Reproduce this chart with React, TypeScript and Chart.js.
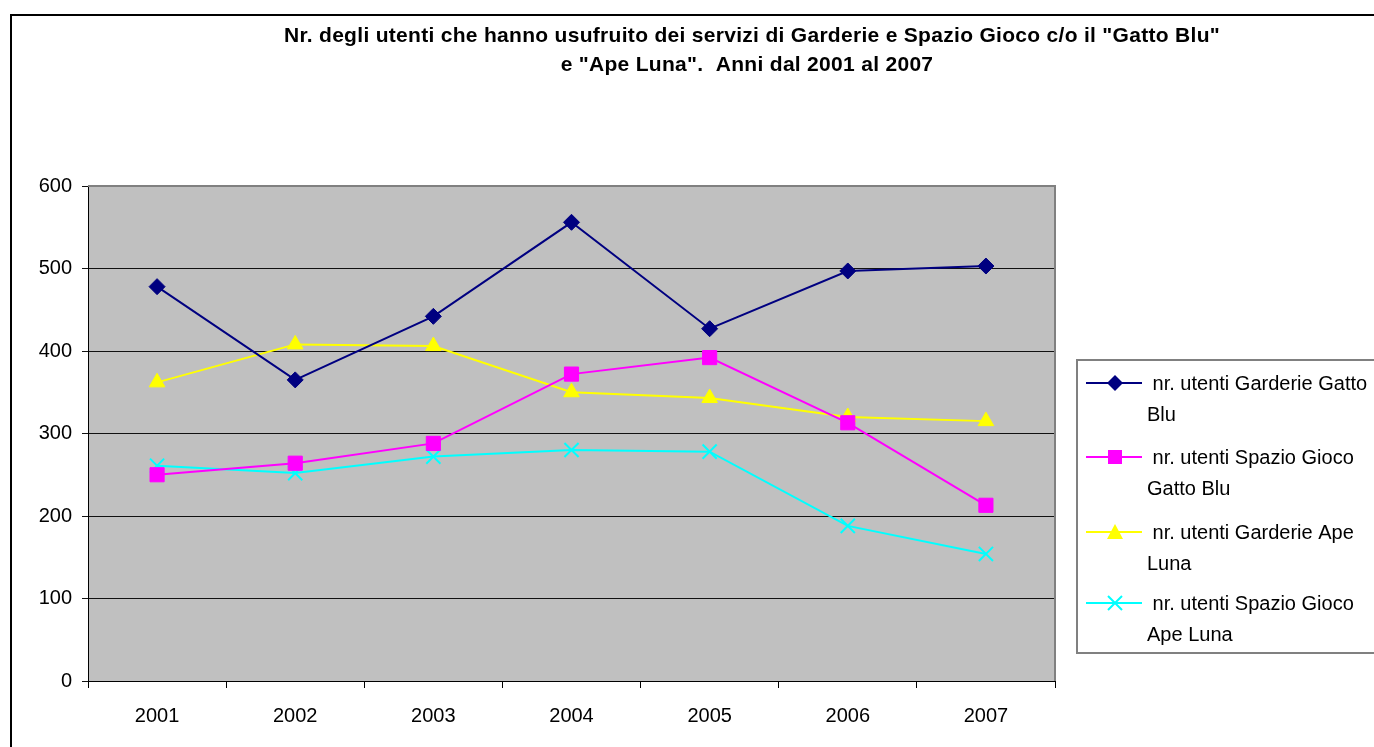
import React, { useEffect, useRef } from "react";
import { Chart, registerables } from "chart.js";

Chart.register(...registerables);

const years = ["2001", "2002", "2003", "2004", "2005", "2006", "2007"];
const garderieGattoBlu = [478, 365, 442, 556, 427, 497, 503];
const spazioGiocoGattoBlu = [250, 264, 288, 372, 392, 313, 213];
const garderieApeLuna = [362, 408, 406, 350, 343, 320, 315];
const spazioGiocoApeLuna = [261, 252, 272, 280, 278, 188, 154];

const seriesNames = [
  "nr. utenti Garderie Gatto Blu",
  "nr. utenti Spazio Gioco Gatto Blu",
  "nr. utenti Garderie Ape Luna",
  "nr. utenti Spazio Gioco Ape Luna",
];
const legendLines = [
  [" nr. utenti Garderie Gatto", "Blu"],
  [" nr. utenti Spazio Gioco", "Gatto Blu"],
  [" nr. utenti Garderie Ape", "Luna"],
  [" nr. utenti Spazio Gioco", "Ape Luna"],
];
const titleLines = [
  'Nr. degli utenti che hanno usufruito dei servizi di Garderie e Spazio Gioco c/o il "Gatto Blu"',
  'e "Ape Luna".  Anni dal 2001 al 2007',
];
const yTicks = [0, 100, 200, 300, 400, 500, 600];

const FONT = "'Liberation Sans', Arial, sans-serif";
const colors = ["#000080", "#FF00FF", "#FFFF00", "#00FFFF"];
const markers = ["rectRot", "rect", "triangle", "crossRot"];
const markerRadius = [8, 10, 9, 10];

function drawMarker(ctx: CanvasRenderingContext2D, kind: string, x: number, y: number, color: string) {
  ctx.save();
  ctx.fillStyle = color;
  ctx.strokeStyle = color;
  ctx.beginPath();
  if (kind === "rectRot") {
    const r = 8;
    ctx.moveTo(x, y - r);
    ctx.lineTo(x + r, y);
    ctx.lineTo(x, y + r);
    ctx.lineTo(x - r, y);
    ctx.closePath();
    ctx.fill();
  } else if (kind === "rect") {
    const r = 7;
    ctx.rect(x - r, y - r, 2 * r, 2 * r);
    ctx.fill();
  } else if (kind === "triangle") {
    const r = 8;
    ctx.moveTo(x, y - r);
    ctx.lineTo(x + r, y + r - 1);
    ctx.lineTo(x - r, y + r - 1);
    ctx.closePath();
    ctx.fill();
  } else {
    const r = 7;
    ctx.lineWidth = 2;
    ctx.moveTo(x - r, y - r);
    ctx.lineTo(x + r, y + r);
    ctx.moveTo(x + r, y - r);
    ctx.lineTo(x - r, y + r);
    ctx.stroke();
  }
  ctx.restore();
}

const decorPlugin = {
  id: "decor",
  beforeDraw(chart: any) {
    const { ctx, chartArea } = chart;
    ctx.save();
    ctx.fillStyle = "#FFFFFF";
    ctx.fillRect(0, 0, chart.width, chart.height);
    ctx.fillStyle = "#C0C0C0";
    ctx.fillRect(chartArea.left, chartArea.top, chartArea.right - chartArea.left, chartArea.bottom - chartArea.top);
    ctx.restore();
  },
  afterDraw(chart: any) {
    const { ctx, chartArea } = chart;
    ctx.save();
    ctx.strokeStyle = "#808080";
    ctx.lineWidth = 2;
    ctx.beginPath();
    ctx.moveTo(chartArea.left, chartArea.top);
    ctx.lineTo(chartArea.right, chartArea.top);
    ctx.lineTo(chartArea.right, chartArea.bottom);
    ctx.stroke();

    // title
    ctx.fillStyle = "#000";
    ctx.font = `bold 21px ${FONT}`;
    (ctx as any).letterSpacing = "0.3px";
    ctx.textAlign = "center";
    ctx.textBaseline = "middle";
    ctx.fillText(titleLines[0], 752, 36);
    ctx.fillText(titleLines[1], 747, 65);
    (ctx as any).letterSpacing = "0px";

    // legend
    ctx.strokeStyle = "#808080";
    ctx.lineWidth = 2;
    ctx.strokeRect(1077, 360, 400, 293);
    const rows = [383, 457, 532, 603];
    ctx.font = `20px ${FONT}`;
    ctx.textAlign = "left";
    chart.data.datasets.forEach((ds: any, i: number) => {
      const y = rows[i];
      ctx.strokeStyle = ds.borderColor;
      ctx.lineWidth = 2;
      ctx.beginPath();
      ctx.moveTo(1086, y);
      ctx.lineTo(1142, y);
      ctx.stroke();
      drawMarker(ctx, markers[i], 1115, y, ds.borderColor);
      ctx.fillStyle = "#000";
      ctx.fillText(legendLines[i][0], 1147, y + 1);
      ctx.fillText(legendLines[i][1], 1147, y + 32);
    });
    ctx.restore();
  },
};

export default function App() {
  const ref = useRef<HTMLCanvasElement | null>(null);
  useEffect(() => {
    if (!ref.current) return;
    const series = [garderieGattoBlu, spazioGiocoGattoBlu, garderieApeLuna, spazioGiocoApeLuna];
    const chart = new Chart(ref.current, {
      type: "line",
      data: {
        labels: years,
        datasets: series.map((d, i) => ({
          label: seriesNames[i],
          data: d,
          borderColor: colors[i],
          backgroundColor: colors[i],
          borderWidth: 2,
          pointStyle: markers[i] as any,
          pointRadius: markerRadius[i],
          pointBorderWidth: markers[i] === "crossRot" ? 2 : 1,
          pointBorderColor: colors[i],
          pointBackgroundColor: colors[i],
          tension: 0,
          fill: false,
        })),
      },
      options: {
        responsive: false,
        animation: false,
        devicePixelRatio: 1,
        layout: { padding: { left: 0, top: 186, right: 319, bottom: 0 } },
        plugins: {
          legend: { display: false },
          title: { display: false },
          tooltip: { enabled: false },
        },
        scales: {
          x: {
            type: "category",
            offset: true,
            afterFit: (s: any) => {
              s.height = 66;
            },
            grid: {
              offset: true,
              drawOnChartArea: false,
              drawTicks: true,
              tickLength: 7,
              color: "#000",
              lineWidth: 1,
            },
            border: { display: true, color: "#000", width: 1 },
            ticks: {
              color: "#000",
              font: { family: FONT, size: 20 },
              padding: 16,
              maxRotation: 0,
            },
          },
          y: {
            min: 0,
            max: 600,
            afterFit: (s: any) => {
              s.width = 88;
            },
            afterBuildTicks: (s: any) => {
              s.ticks = yTicks.map((v) => ({ value: v }));
            },
            grid: {
              drawOnChartArea: true,
              drawTicks: true,
              tickLength: 6,
              color: "#111",
              lineWidth: 1,
            },
            border: { display: true, color: "#000", width: 1 },
            ticks: {
              color: "#000",
              font: { family: FONT, size: 20 },
              padding: 10,
            },
          },
        },
      },
      plugins: [decorPlugin],
    });
    return () => chart.destroy();
  }, []);

  return (
    <>
      <canvas
        ref={ref}
        width={1374}
        height={747}
        style={{ position: "fixed", left: 0, top: 0, width: 1374, height: 747 }}
      />
      <div
        style={{
          position: "fixed",
          left: 10,
          top: 14,
          width: 2000,
          height: 2000,
          borderLeft: "2px solid #000",
          borderTop: "2px solid #000",
          pointerEvents: "none",
        }}
      />
    </>
  );
}
